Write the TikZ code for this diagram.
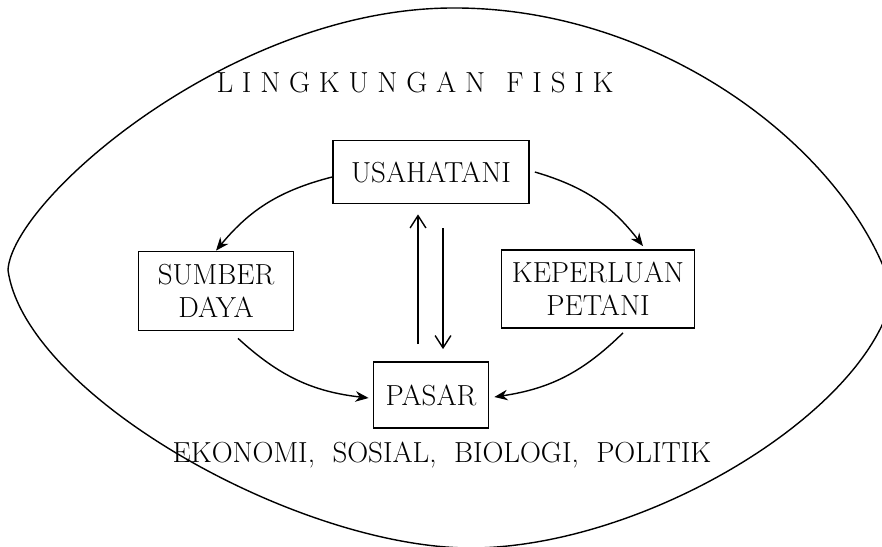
\documentclass[tikz,border=0pt]{standalone}
\usepackage{fontspec}
\usetikzlibrary{arrows.meta,calc,positioning}

\tikzset{
  box/.style={draw, line width=1pt, align=center, inner sep=0pt,
    font=\fontsize{16.5}{18.7}\selectfont},
  lbl/.style={font=\fontsize{16.5}{18.7}\selectfont},
  flow/.style={-{Stealth[length=7.5pt,width=6pt]}, line width=0.8pt},
  link/.style={-{Straight Barb[length=7pt,width=9pt]}, line width=0.8pt}
}
\newcommand{\gap}{\hspace{5pt}}

\begin{document}
\begin{tikzpicture}[x=0.02cm, y=-0.02cm]
  \useasboundingbox (0,0) rectangle (882,547);
  % ── Physical environment (outer lens) ──
  \draw[line width=0.8pt] (8,270)
    .. controls (12,200) and (230,10) .. (450,8)
    .. controls (660,6) and (850,150) .. (893,293)
    .. controls (870,410) and (650,545) .. (475,548)
    .. controls (300,550) and (25,395) .. cycle;
  \node[lbl] (fisik) at (415,82)
    {L\gap I\gap N\gap G\gap K\gap U\gap N\gap G\gap A\gap N\hspace{12pt}F\gap I\gap S\gap I\gap K};
  \node[lbl] (faktor) at (442,455) {EKONOMI, \ SOSIAL, \ BIOLOGI, \ POLITIK};
  %
  % ── Farm system ──
  \node[box, minimum width=3.92cm, minimum height=1.26cm] (usaha) at (431,172) {USAHATANI};
  \node[box, minimum width=3.1cm, minimum height=1.58cm] (sumber) at (216,291) {SUMBER\\DAYA};
  \node[box, minimum width=3.86cm, minimum height=1.56cm] (perlu) at (598,289) {KEPERLUAN\\PETANI};
  \node[box, minimum width=2.3cm, minimum height=1.32cm] (pasar) at (431,395) {PASAR};
  %
  % ── Flows ──
  \draw[flow] ($(usaha.west)+(0,5)$) to[bend right=18] (sumber.north);
  \draw[flow] ($(usaha.east)+(5,0)$) to[bend left=18] ($(perlu.north)+(45,-3)$);
  \draw[flow] ($(sumber.south)+(22,7)$) to[bend right=18] ($(pasar.west)+(-4,3)$);
  \draw[flow] ($(perlu.south)+(25,4)$) to[bend left=18] ($(pasar.east)+(5,2)$);
  \draw[link] ($(pasar.north)+(-13,-17)$) -- ($(usaha.south)+(-13,10)$);
  \draw[link] ($(usaha.south)+(12,24)$) -- ($(pasar.north)+(12,-12)$);
\end{tikzpicture}
\end{document}
